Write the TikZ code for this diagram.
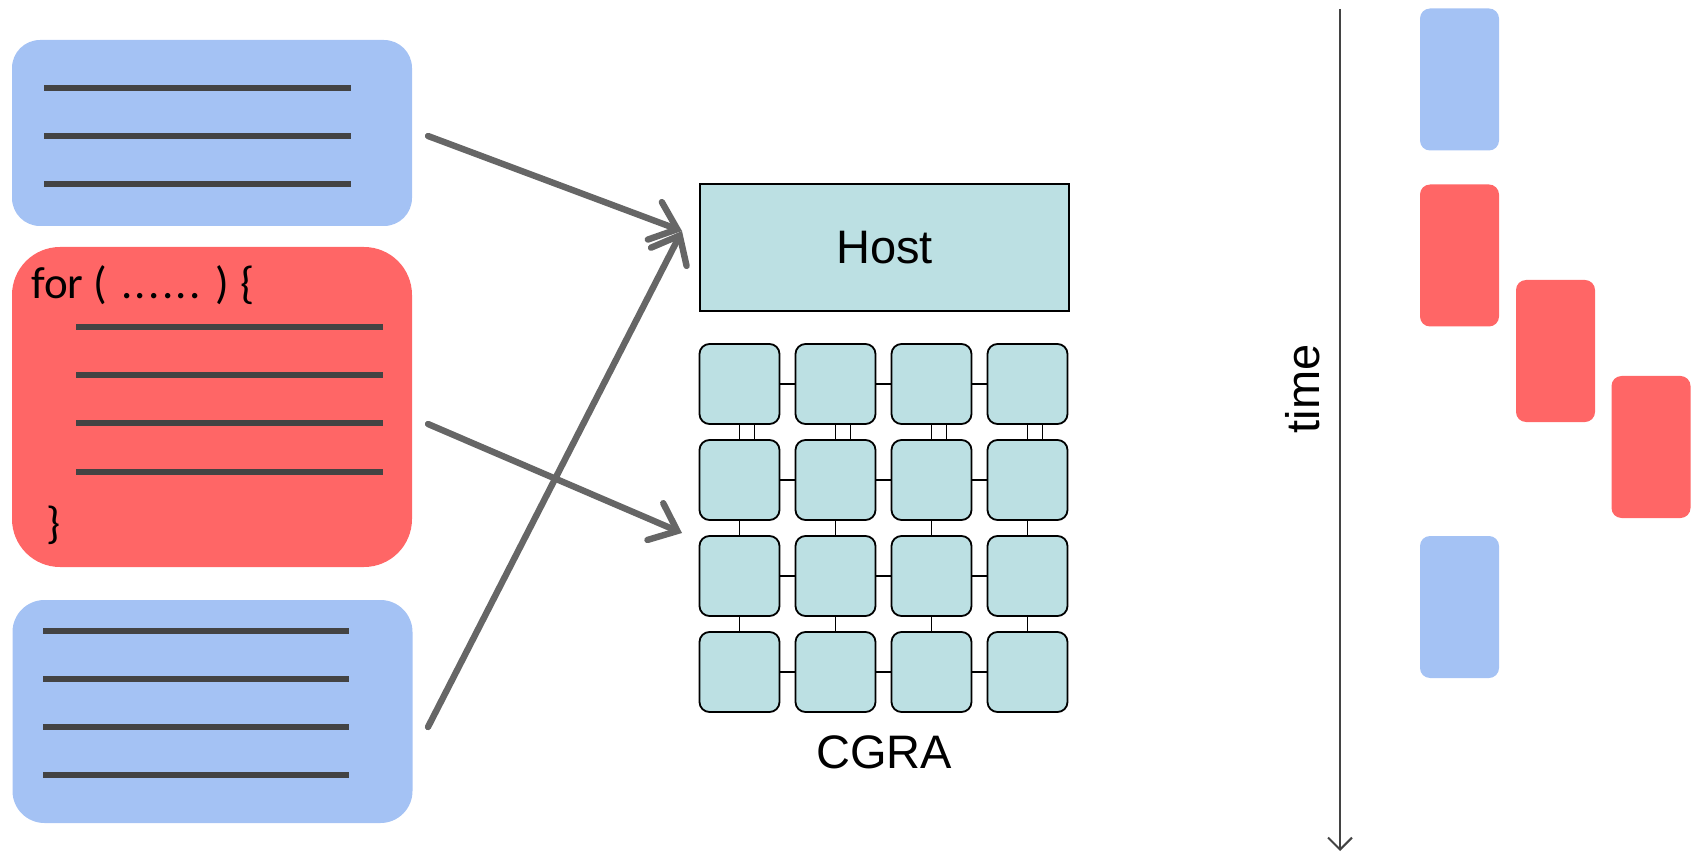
\documentclass[tikz,border=0pt]{standalone}
\usepackage{fontspec}
\setmainfont{Liberation Sans}
\newfontfamily\codefont{Carlito}
\usetikzlibrary{arrows.meta,fit}
\definecolor{codeblue}{HTML}{A4C2F4}
\definecolor{codered}{HTML}{FF6666}
\definecolor{pecyan}{HTML}{BCE0E3}
\definecolor{stmtgray}{HTML}{434343}
\definecolor{flowgray}{HTML}{666666}
\newcommand\codedot{\rlap{.}\hspace{6.8pt}}
\tikzset{
  codebox/.style={inner sep=0pt, minimum width=200pt},
  stmt/.style={draw=stmtgray, line width=3pt},
  flow/.style={draw=flowgray, line width=3.2pt, line cap=round,
    -{Straight Barb[length=12pt,width=20pt,line cap=round]}},
  pe/.style={draw=black, fill=pecyan, line width=0.9pt, rounded corners=5pt,
    minimum width=40pt, minimum height=40pt, inner sep=0pt},
  link/.style={draw=black, line width=0.8pt},
  slot/.style={rounded corners=5pt, minimum width=39.5pt, minimum height=71pt, inner sep=0pt},
  bigtext/.style={font=\fontsize{23.5}{28}\selectfont},
  codetext/.style={anchor=base west, inner sep=0pt, font=\codefont\fontsize{22.5}{26}\selectfont},
}
\begin{document}
\begin{tikzpicture}[x=0.5pt,y=-0.5pt]
\useasboundingbox (0,0) rectangle (1696,855);

% --- source code blocks ---
\node[codebox, fill=codeblue, rounded corners=14pt, minimum height=93pt] (pre) at (212,133) {};
\node[codebox, fill=codered, rounded corners=24pt, minimum height=160pt] (loop) at (212,407) {};
\node[codebox, fill=codeblue, rounded corners=16pt, minimum height=111.5pt] (post) at (212.5,711.5) {};

\foreach \y in {88,136,184} \draw[stmt] (44,\y) -- (351,\y);
\foreach \y in {327,375,423,472} \draw[stmt] (76,\y) -- (383,\y);
\foreach \y in {631,679,727,774.5} \draw[stmt] (43,\y) -- (349,\y);

\node[codetext] (loophead) at (31,299)
  {\rlap{for}\hspace{31pt}\rlap{(}\hspace{14pt}\codedot\codedot\codedot\codedot\codedot\rlap{.}\hspace{13pt}\rlap{)}\hspace{12.5pt}\{};
\node[codetext] (looptail) at (46,538) {\}};

% --- host and CGRA ---
\node[draw=black, fill=pecyan, line width=0.9pt, minimum width=184.5pt, minimum height=63.5pt,
  inner sep=0pt, bigtext] (host) at (884.5,247.5) {Host};

\foreach \r in {0,...,3}
  \foreach \c in {0,...,3}
    \node[pe] (pe-\r-\c) at ({739.5+96*\c},{384+96*\r}) {};

\foreach \r in {0,...,3}
  \foreach \c/\d in {0/1,1/2,2/3}
    \draw[link] (pe-\r-\c.east) -- (pe-\r-\d.west);

\foreach \c in {0,...,3} {
  \draw[link] (pe-0-\c.south) -- (pe-1-\c.north);
  \draw[link] ([xshift=7.5pt]pe-0-\c.south) -- ([xshift=7.5pt]pe-1-\c.north);
  \draw[link] (pe-1-\c.south) -- (pe-2-\c.north);
  \draw[link] (pe-2-\c.south) -- (pe-3-\c.north);
}

\node[fit=(pe-0-0)(pe-3-3), inner sep=0pt] (cgra) {};
\node[bigtext, inner sep=0pt] (cgralabel) at (884,752) {CGRA};

% --- offload arrows ---
\coordinate (preout) at (428,136);
\coordinate (loopout) at (428,424);
\coordinate (postout) at (428,727);
\coordinate (hostin) at (682,231);
\coordinate (cgrain) at (682,533);
\draw[flow] (preout) -- (hostin);
\draw[flow] (loopout) -- (cgrain);
\draw[flow] (postout) -- (hostin);

% --- timeline ---
\coordinate (tstart) at (1340,9);
\coordinate (tend) at (1340,851);
\draw[draw=stmtgray, line width=1pt, -{Straight Barb[length=6pt,width=12pt]}] (tstart) -- (tend);
\node[bigtext, rotate=90, inner sep=0pt] (timelabel) at (1303,389) {time};

\node[slot, fill=codeblue] (s1) at (1459.5,79.5) {};
\node[slot, fill=codered] (s2) at (1459.5,255.5) {};
\node[slot, fill=codered] (s3) at (1555.5,351) {};
\node[slot, fill=codered] (s4) at (1651,447) {};
\node[slot, fill=codeblue] (s5) at (1459.5,607) {};
\end{tikzpicture}
\end{document}
